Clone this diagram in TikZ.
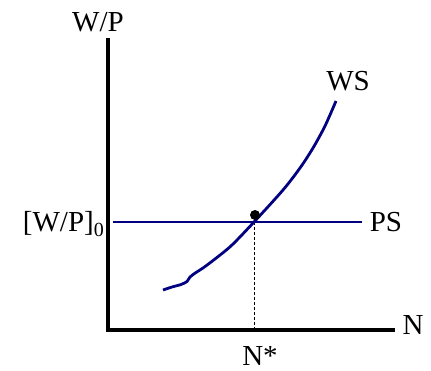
\documentclass[tikz,border=0pt]{standalone}
\usepackage{fontspec}
\setmainfont{Liberation Serif}
\definecolor{curvenavy}{RGB}{0,0,128}
\begin{document}
\begin{tikzpicture}[x=1pt,y=-1pt,
  axisline/.style={line width=4pt},
  curveline/.style={line width=2.8pt,draw=curvenavy},
  lbl/.style={font=\fontsize{29}{32}\selectfont,inner sep=0pt}]
\useasboundingbox (0,0) rectangle (431,371);
\coordinate (top) at (108,38);
\coordinate (origin) at (108,330);
\coordinate (xend) at (395,330);
\draw[axisline] (top) -- (origin) -- (xend);
\coordinate (psL) at (113,222);
\coordinate (psR) at (362,222);
\draw[curveline] (psL) -- (psR);
\coordinate (eq) at (254,222);
\coordinate (eqbase) at (254,330);
\draw[line width=0.8pt,dash pattern=on 3pt off 2pt] (eq) -- (eqbase);
\draw[curveline] plot[smooth,tension=0.5] coordinates {(163,290) (172,287) (181,284.5) (187,281.5) (190,277) (196,272.5) (203,268) (215,259) (232,245) (254,222) (283,190) (300,168) (313,148) (325,126) (336,101)};
\node[circle,fill=black,inner sep=0pt,minimum size=10pt] (dot) at (255,215) {};
\node[lbl] (wp) at (98,22) {W/P};
\node[lbl] (ws) at (348,81) {WS};
\node[lbl] (ps) at (386,222) {PS};
\node[lbl,anchor=east] (wp0) at (104,224) {[W/P]\raisebox{-5pt}{\fontsize{20}{22}\selectfont 0}};
\node[lbl] (n) at (413,325) {N};
\node[lbl,anchor=base] (nstar) at (260,365) {N*};
\end{tikzpicture}
\end{document}
